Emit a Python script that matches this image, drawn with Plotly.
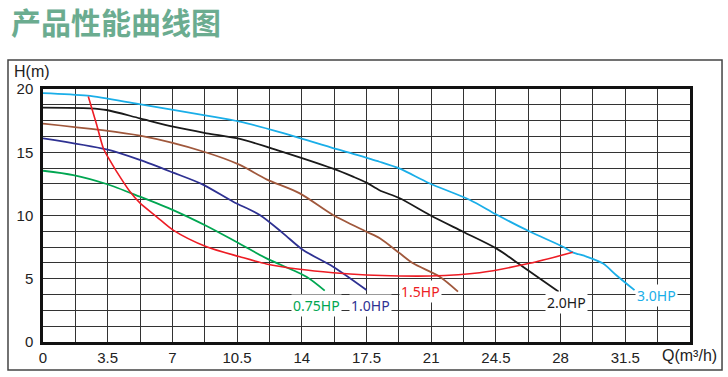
import plotly.graph_objects as go

# ---- data (Q in m3/h, H in m) ----
q_30 = [0, 2.4, 5.2, 8.85, 10.65, 12.8, 16.05, 18.2, 19.3, 20.9, 23.1, 24.5, 26.3, 28.1, 28.66, 29.4, 30.3, 31.0, 32.0]
h_30 = [19.68, 19.47, 18.8, 17.9, 17.42, 16.6, 15.18, 14.25, 13.7, 12.55, 11.23, 10.1, 8.75, 7.55, 7.09, 6.75, 6.2, 5.3, 4.1]

q_20 = [0, 2.54, 3.44, 5.24, 7.04, 8.85, 10.65, 12.7, 15.69, 16.77, 17.5, 18.2, 19.3, 20.92, 22.72, 24.52, 25.96, 27.9]
h_20 = [18.52, 18.47, 18.34, 17.68, 17.02, 16.5, 16.05, 15.15, 13.7, 13.07, 12.6, 12.0, 11.36, 10.04, 8.72, 7.4, 5.95, 3.98]

q_15 = [0, 5.24, 8.7, 10.65, 12.09, 13.89, 15.69, 17.5, 18.22, 19.3, 20.02, 21.46, 22.45]
h_15 = [17.26, 16.31, 15.04, 14.0, 12.86, 11.75, 10.04, 8.72, 8.2, 7.01, 6.22, 5.16, 3.98]

q_10 = [0, 3.44, 5.24, 7.04, 8.6, 10.29, 11.73, 12.99, 14.07, 15.69, 17.5]
h_10 = [16.1, 15.22, 14.39, 13.39, 12.48, 11.09, 10.04, 8.59, 7.27, 5.95, 4.11]

q_075 = [0, 1.64, 3.44, 5.24, 7.04, 8.85, 10.5, 12.09, 14.25, 15.24]
h_075 = [13.54, 13.2, 12.49, 11.49, 10.43, 9.17, 7.88, 6.61, 5.16, 4.06]

q_red = [2.45, 2.9, 3.27, 3.62, 3.95, 4.7, 5.24, 6.15, 7.04, 8.85, 10.65, 12.09, 13.89, 15.69, 17.5, 19.3, 20.92, 23.62, 26.32, 28.66]
h_red = [19.4, 17.2, 15.3, 14.35, 13.55, 11.9, 11.0, 9.9, 8.85, 7.53, 6.74, 6.17, 5.75, 5.48, 5.3, 5.22, 5.22, 5.48, 6.22, 7.09]

x_ticks = [0, 3.5, 7, 10.5, 14, 17.5, 21, 24.5, 28, 31.5]
x_ticktext = ["0", "3.5", "7", "10.5", "14", "17.5", "21", "24.5", "28", "31.5"]
y_ticks = [0, 5, 10, 15, 20]

labels = ["0.75HP", "1.0HP", "1.5HP", "2.0HP", "3.0HP"]
label_q = [14.8, 17.7, 20.4, 28.3, 33.2]
label_h = [2.9, 2.9, 4.0, 3.1, 3.7]
label_colors = ["#00A651", "#2E3192", "#ED1C24", "#1a1a1a", "#1AAEE8"]

series = [
    (q_075, h_075, "#00A651", 1.8),
    (q_10, h_10, "#2E3192", 1.8),
    (q_15, h_15, "#A0583C", 1.8),
    (q_20, h_20, "#1a1a1a", 1.8),
    (q_30, h_30, "#1AAEE8", 1.8),
    (q_red, h_red, "#ED1C24", 1.6),
]

fig = go.Figure()
for qx, hy, col, w in series:
    fig.add_trace(go.Scatter(x=qx, y=hy, mode="lines",
                             line=dict(color=col, width=w, shape="spline", smoothing=0.8),
                             showlegend=False, hoverinfo="skip"))

tick_font = dict(family="Liberation Sans, Arial, sans-serif", size=15, color="#222")

fig.update_xaxes(range=[0, 35], tickvals=x_ticks, ticktext=x_ticktext,
                 showgrid=True, gridcolor="#333", gridwidth=1,
                 minor=dict(dtick=1.75, tick0=0, showgrid=True, gridcolor="#333", gridwidth=1),
                 showline=True, mirror=True, linecolor="#111", linewidth=2.5,
                 zeroline=False, ticks="", tickfont=tick_font)
fig.update_yaxes(range=[0, 20], tickvals=y_ticks,
                 showgrid=True, gridcolor="#333", gridwidth=1,
                 minor=dict(dtick=1.25, tick0=0, showgrid=True, gridcolor="#333", gridwidth=1),
                 showline=True, mirror=True, linecolor="#111", linewidth=2.5,
                 zeroline=False, ticks="", tickfont=tick_font, ticklabelstandoff=4)

for t, qx, hy, col in zip(labels, label_q, label_h, label_colors):
    fig.add_annotation(x=qx, y=hy, text=t, showarrow=False, bgcolor="white",
                       borderpad=1,
                       font=dict(family="Noto Sans, sans-serif", size=14, color=col))

fig.add_annotation(xref="paper", yref="paper", x=-0.0479, y=1.071, xanchor="left", yanchor="middle",
                   text="H(m)", showarrow=False,
                   font=dict(family="Liberation Sans, Arial, sans-serif", size=16, color="#222"))
fig.add_annotation(xref="paper", yref="paper", x=0.9536, y=-0.0514, xanchor="left", yanchor="middle",
                   text="Q(m³/h)", showarrow=False,
                   font=dict(family="Liberation Sans, Arial, sans-serif", size=16, color="#222"))
fig.add_annotation(xref="paper", yref="paper", x=-0.053, y=1.269, xanchor="left", yanchor="middle",
                   text="<b>产品性能曲线图</b>", showarrow=False,
                   font=dict(family="Noto Sans CJK SC, sans-serif", size=30, color="#6BAC90"))

fig.add_shape(type="rect", xref="paper", yref="paper",
              x0=-0.0541, x1=1.0495, y0=-0.1107, y1=1.1146,
              line=dict(color="#444", width=1.5), layer="below")

fig.update_layout(width=728, height=377, margin=dict(l=43, r=38, t=89, b=35),
                  paper_bgcolor="white", plot_bgcolor="white")

fig.write_html("out.html", config={"displayModeBar": False},
               post_script="document.body.style.margin='0';document.body.style.padding='0';")
